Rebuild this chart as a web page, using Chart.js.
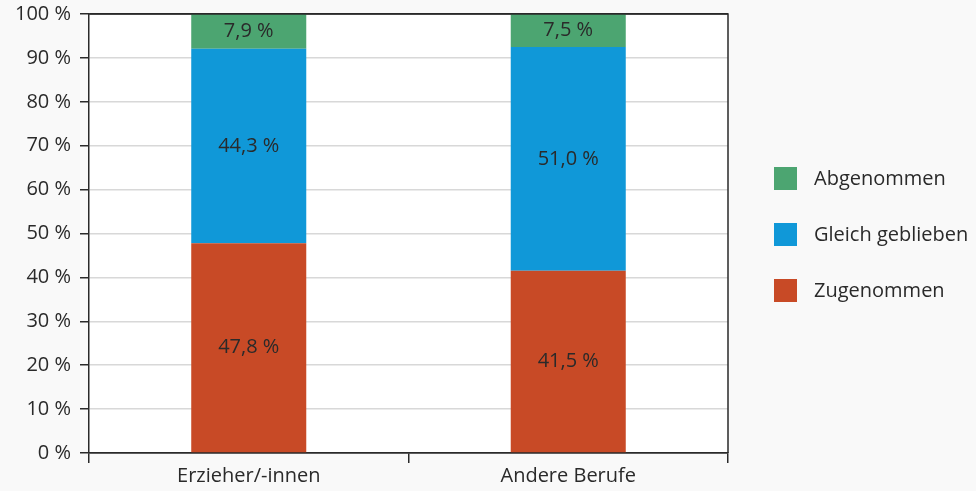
<!DOCTYPE html>
<html>
<head>
<meta charset="utf-8">
<script src="https://cdn.jsdelivr.net/npm/chart.js@4"></script>
<style>
  html, body { margin: 0; padding: 0; background: #f9f9f9; }
  #wrap { width: 976px; height: 491px; position: relative; }
</style>
</head>
<body>
<div id="wrap"><canvas id="chart"></canvas></div>
<script>
// Data
const categories = ['Erzieher/-innen', 'Andere Berufe'];
const seriesNames = ['Zugenommen', 'Gleich geblieben', 'Abgenommen'];
const zugenommen = [47.8, 41.5];
const gleichGeblieben = [44.3, 51.0];
const abgenommen = [7.9, 7.5];
const yTicks = [0, 10, 20, 30, 40, 50, 60, 70, 80, 90, 100];

const colors = ['#c84a26', '#1098d8', '#4ca571'];
const fontFamily = '"Open Sans", "Noto Sans", sans-serif';
const fontSize = 20;
const textColor = '#2a2a2a';

// White plot background + top/right border
const plotFrame = {
    id: 'plotFrame',
    beforeDraw(chart) {
        const { ctx, chartArea: a } = chart;
        ctx.save();
        ctx.fillStyle = '#ffffff';
        ctx.fillRect(a.left, a.top, a.right - a.left, a.bottom - a.top);
        ctx.restore();
    },
    afterDraw(chart) {
        const { ctx, chartArea: a } = chart;
        ctx.save();
        ctx.strokeStyle = '#2a2a2a';
        ctx.lineWidth = 1.5;
        ctx.beginPath();
        ctx.moveTo(a.left, a.top);
        ctx.lineTo(a.right, a.top);
        ctx.lineTo(a.right, a.bottom);
        ctx.stroke();
        ctx.restore();
    }
};

// Value labels in the middle of each segment
const segmentLabels = {
    id: 'segmentLabels',
    afterDatasetsDraw(chart) {
        const ctx = chart.ctx;
        ctx.save();
        ctx.font = fontSize + 'px ' + fontFamily;
        ctx.fillStyle = textColor;
        ctx.textAlign = 'center';
        ctx.textBaseline = 'middle';
        chart.data.datasets.forEach((ds, i) => {
            const meta = chart.getDatasetMeta(i);
            meta.data.forEach((bar, j) => {
                const y = (bar.y + bar.base) / 2;
                const txt = ds.data[j].toFixed(1).replace('.', ',') + ' %';
                ctx.fillText(txt, bar.x, y);
            });
        });
        ctx.restore();
    }
};

// Legend on the right, top item = last dataset
const sideLegend = {
    id: 'sideLegend',
    afterDraw(chart) {
        const ctx = chart.ctx;
        const items = chart.data.datasets.slice().reverse();
        ctx.save();
        ctx.font = fontSize + 'px ' + fontFamily;
        ctx.textBaseline = 'middle';
        ctx.textAlign = 'left';
        items.forEach((ds, i) => {
            const top = 167 + i * 56;
            ctx.fillStyle = ds.backgroundColor;
            ctx.fillRect(774, top, 23, 23);
            ctx.fillStyle = textColor;
            ctx.fillText(ds.label, 814, top + 12);
        });
        ctx.restore();
    }
};

const ctx = document.getElementById('chart').getContext('2d');
new Chart(ctx, {
    type: 'bar',
    data: {
        labels: categories,
        datasets: [
            { label: seriesNames[0], data: zugenommen, backgroundColor: colors[0] },
            { label: seriesNames[1], data: gleichGeblieben, backgroundColor: colors[1] },
            { label: seriesNames[2], data: abgenommen, backgroundColor: colors[2] }
        ]
    },
    options: {
        responsive: true,
        maintainAspectRatio: false,
        animation: false,
        layout: { padding: { top: 14, right: 248, left: 0, bottom: 0 } },
        datasets: { bar: { barPercentage: 0.36, categoryPercentage: 1 } },
        plugins: {
            legend: { display: false },
            tooltip: { enabled: false }
        },
        scales: {
            x: {
                stacked: true,
                grid: {
                    offset: true,
                    drawOnChartArea: false,
                    tickLength: 10,
                    tickColor: '#2a2a2a',
                    lineWidth: 1.5
                },
                border: { color: '#2a2a2a', width: 1.5 },
                ticks: {
                    color: textColor,
                    font: { family: fontFamily, size: fontSize },
                    padding: 1
                },
                afterFit(scale) { scale.height = 38; }
            },
            y: {
                stacked: true,
                min: 0,
                max: 100,
                afterBuildTicks(scale) { scale.ticks = yTicks.map(v => ({ value: v })); },
                grid: {
                    color: c => (c.tick && (c.tick.value === 0 || c.tick.value === 100)) ? '#2a2a2a' : '#d8d8d8',
                    lineWidth: 1.5,
                    tickLength: 9,
                    tickColor: '#2a2a2a'
                },
                border: { color: '#2a2a2a', width: 1.5 },
                ticks: {
                    color: textColor,
                    font: { family: fontFamily, size: fontSize },
                    padding: 9,
                    callback: v => v + ' %'
                },
                afterFit(scale) {
                    scale.width = 89;
                    scale.paddingTop = 0;
                    scale.paddingBottom = 0;
                }
            }
        }
    },
    plugins: [plotFrame, segmentLabels, sideLegend]
});
</script>
</body>
</html>
